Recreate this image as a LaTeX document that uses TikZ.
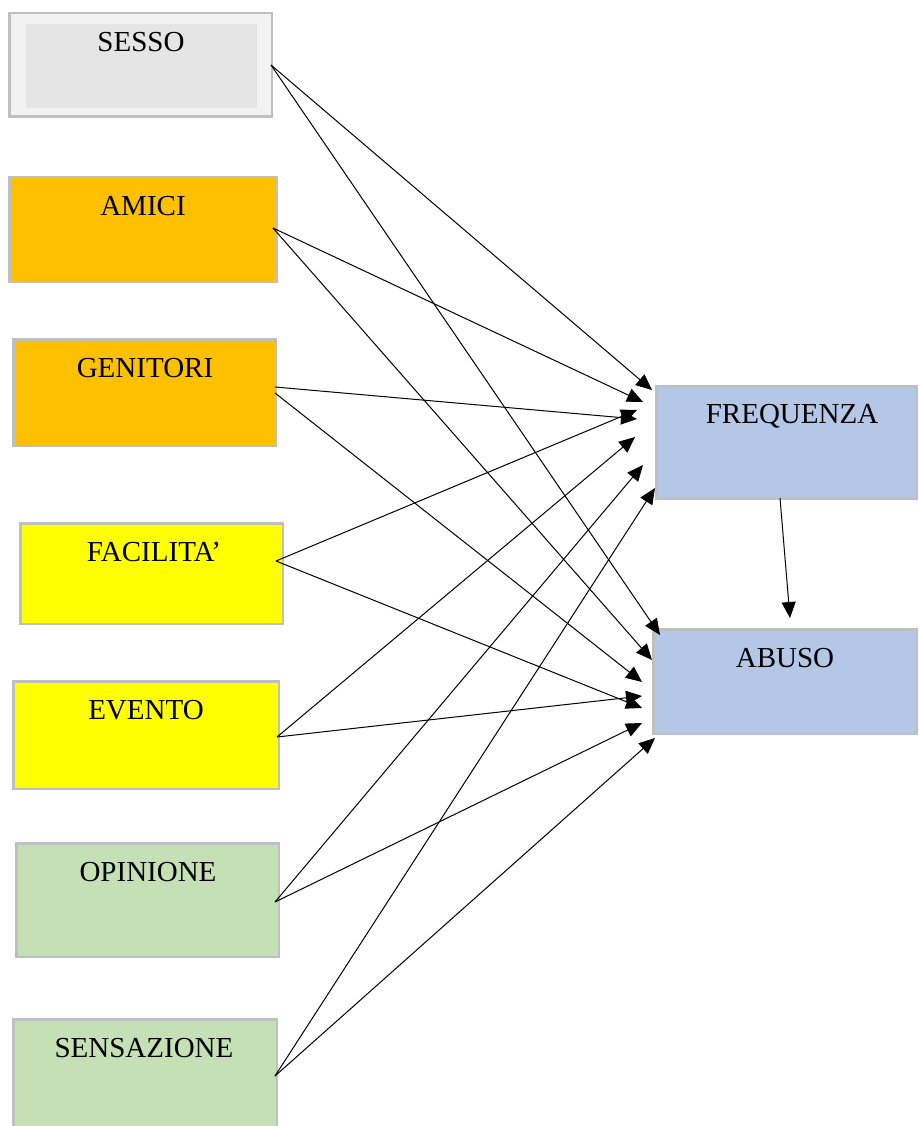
\documentclass[tikz,border=0pt]{standalone}
\usepackage{fontspec}
\setmainfont{Liberation Serif}
\usetikzlibrary{arrows.meta}
\definecolor{boxgray}{HTML}{BFBFBF}
\definecolor{sexout}{HTML}{F2F2F2}
\definecolor{sexin}{HTML}{E5E5E5}
\definecolor{orangebox}{HTML}{FFC000}
\definecolor{yellowbox}{HTML}{FFFF00}
\definecolor{greenbox}{HTML}{C5E0B4}
\definecolor{bluebox}{HTML}{B4C7E7}
\tikzset{
  box/.style={draw=boxgray, line width=2.5pt, rectangle, inner sep=0pt},
  lbl/.style={anchor=base, inner sep=0pt, font=\fontsize{29}{34}\selectfont},
  conn/.style={line width=1pt, -{Triangle[length=16pt,width=14pt]}}
}
\begin{document}
\begin{tikzpicture}[x=1pt,y=-1pt]
\useasboundingbox (0,0) rectangle (918,1126);
\clip (0,0) rectangle (918,1126);
% boxes (outer extents minus border)
\node[box, fill=sexout, minimum width=262.5pt, minimum height=103.5pt] (sesso) at (140.5,65) {};
\fill[sexin] (26,24) rectangle (257,108);
\node[box, fill=orangebox, minimum width=267.5pt, minimum height=104.5pt] (amici) at (143,229.5) {};
\node[box, fill=orangebox, minimum width=262.5pt, minimum height=106.5pt] (genitori) at (144.5,392.5) {};
\node[box, fill=yellowbox, minimum width=262.5pt, minimum height=100.5pt] (facilita) at (151.5,573.5) {};
\node[box, fill=yellowbox, minimum width=265.5pt, minimum height=107.5pt] (evento) at (146,735) {};
\node[box, fill=greenbox, minimum width=262.5pt, minimum height=113.5pt] (opinione) at (147.5,900) {};
\node[box, fill=greenbox, minimum width=263.5pt, minimum height=119.5pt] (sensazione) at (145,1079) {};
\node[box, fill=bluebox, minimum width=260.5pt, minimum height=112.5pt] (frequenza) at (786.5,442.5) {};
\node[box, fill=bluebox, minimum width=263.5pt, minimum height=104.5pt] (abuso) at (785,681.5) {};
% labels
\node[lbl] (sesso-t) at (141,52) {SESSO};
\node[lbl] (amici-t) at (143,215) {AMICI};
\node[lbl] (genitori-t) at (145,377) {GENITORI};
\node[lbl] (facilita-t) at (154,561) {FACILITA’};
\node[lbl] (evento-t) at (146,719) {EVENTO};
\node[lbl] (opinione-t) at (148,881) {OPINIONE};
\node[lbl] (sensazione-t) at (144,1057) {SENSAZIONE};
\node[lbl] (frequenza-t) at (792,423) {FREQUENZA};
\node[lbl] (abuso-t) at (785,667) {ABUSO};
% connector endpoints
\coordinate (s-o) at (271,65);
\coordinate (a-o) at (273,228);
\coordinate (g-o1) at (275,387);
\coordinate (g-o2) at (275,393);
\coordinate (f-o) at (276,561);
\coordinate (e-o) at (277,737);
\coordinate (o-o) at (275,902);
\coordinate (n-o) at (275,1076);
\coordinate (fr-s) at (652,390);
\coordinate (fr-a) at (643,402);
\coordinate (fr-g) at (637,419);
\coordinate (fr-f) at (637,410);
\coordinate (fr-e) at (635,437);
\coordinate (fr-o) at (643,465);
\coordinate (fr-n) at (655,488);
\coordinate (ab-s) at (660,635);
\coordinate (ab-a) at (652,660);
\coordinate (ab-g) at (642,682);
\coordinate (ab-f) at (642,708);
\coordinate (ab-e) at (642,696);
\coordinate (ab-o) at (642,723);
\coordinate (ab-n) at (655,738);
\coordinate (fr-out) at (780,498);
\coordinate (ab-in) at (790,618);
% connectors
\draw[conn] (s-o) -- (fr-s);
\draw[conn] (s-o) -- (ab-s);
\draw[conn] (a-o) -- (fr-a);
\draw[conn] (a-o) -- (ab-a);
\draw[conn] (g-o1) -- (fr-g);
\draw[conn] (g-o2) -- (ab-g);
\draw[conn] (f-o) -- (fr-f);
\draw[conn] (f-o) -- (ab-f);
\draw[conn] (e-o) -- (fr-e);
\draw[conn] (e-o) -- (ab-e);
\draw[conn] (o-o) -- (fr-o);
\draw[conn] (o-o) -- (ab-o);
\draw[conn] (n-o) -- (fr-n);
\draw[conn] (n-o) -- (ab-n);
\draw[conn] (fr-out) -- (ab-in);
\end{tikzpicture}
\end{document}
